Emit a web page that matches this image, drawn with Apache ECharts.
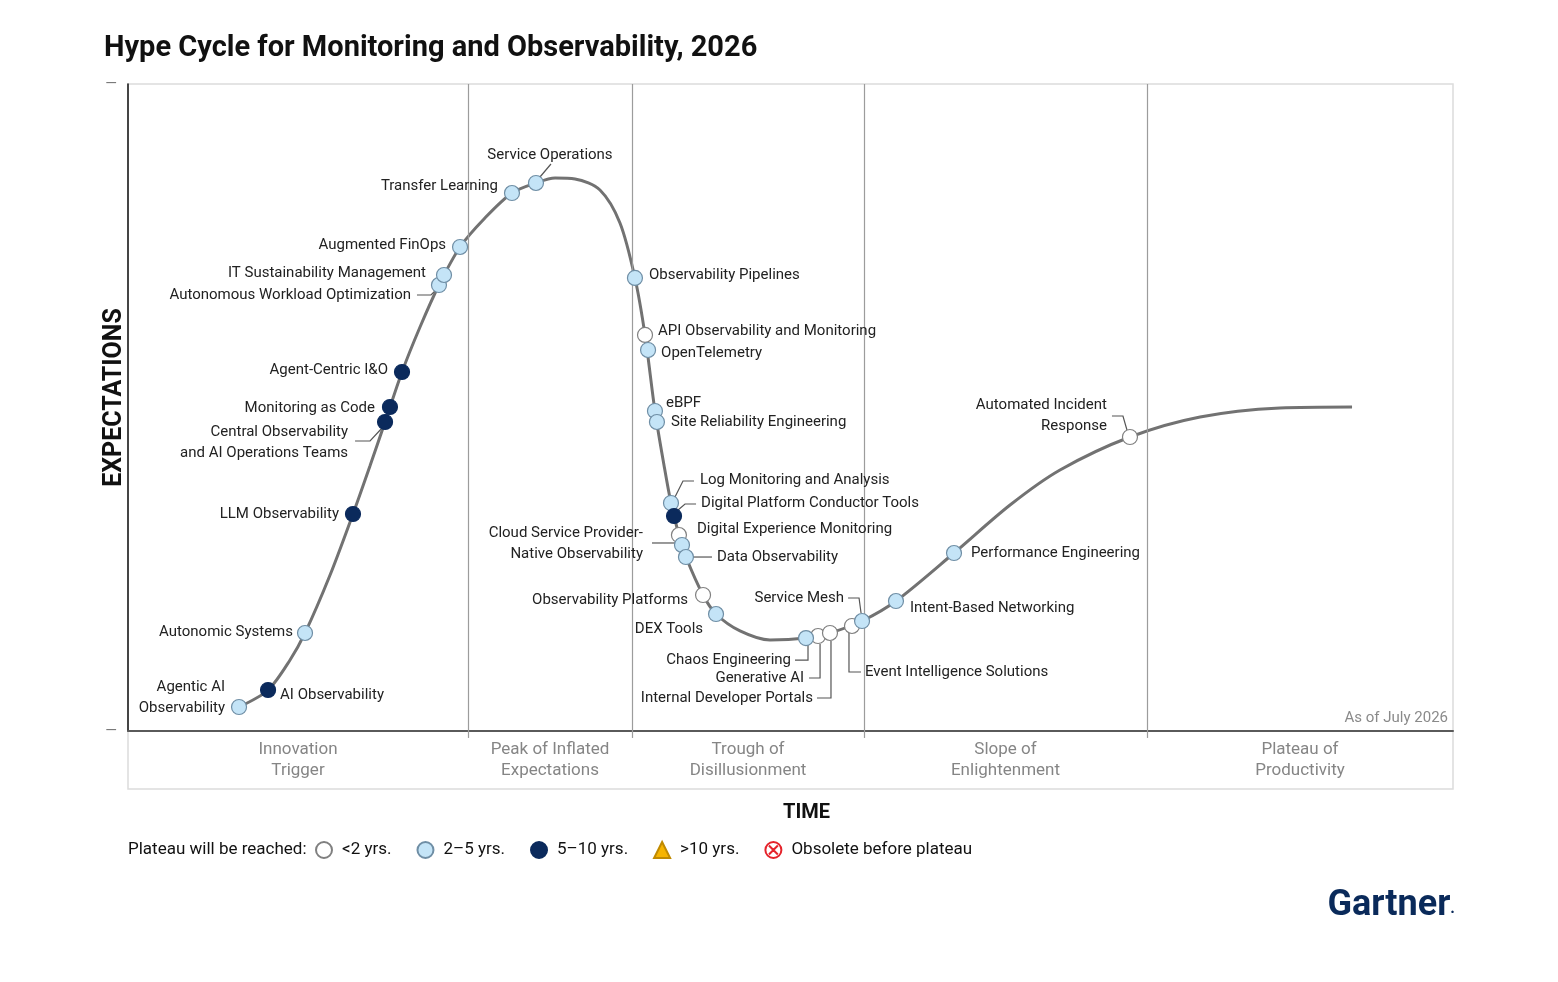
<!DOCTYPE html>
<html>
<head>
<meta charset="utf-8">
<script src="https://cdn.jsdelivr.net/npm/echarts@6/dist/echarts.min.js"></script>
<style>
html,body{margin:0;padding:0;background:#fff;}
#c{width:1558px;height:982px;}
</style>
</head>
<body>
<div id="c"></div>
<script>
// ---------------- DATA (x = time 0-100, y = expectations 0-100) ----------------
const curveX = [8.38,10.57,12.23,13.36,15.25,16.98,18.26,19.40,20.68,22.04,23.47,25.06,26.94,28.98,30.79,32.23,33.74,35.62,37.13,38.26,39.02,39.77,40.45,40.98,41.58,42.11,43.40,44.38,46.19,48.45,51.17,52.98,55.40,57.96,62.34,66.57,70.34,75.62,80.91,86.94,92.38];
const curveY = [3.71,6.34,10.97,15.15,24.11,33.54,40.96,47.76,55.49,62.44,68.93,74.81,79.29,83.15,84.70,85.47,85.32,83.62,78.52,70.02,61.21,49.46,41.11,35.24,30.29,26.89,21.02,18.08,15.46,14.06,14.37,15.15,17.00,20.09,27.51,34.93,40.34,45.44,48.53,49.92,50.08];

const techNames = [
  'Agentic AI\nObservability','AI Observability','Autonomic Systems','LLM Observability',
  'Central Observability\nand AI Operations Teams','Monitoring as Code','Agent-Centric I&O',
  'Autonomous Workload Optimization','IT Sustainability Management','Augmented FinOps',
  'Transfer Learning','Service Operations','Observability Pipelines','API Observability and Monitoring',
  'OpenTelemetry','eBPF','Site Reliability Engineering','Log Monitoring and Analysis',
  'Digital Platform Conductor Tools','Digital Experience Monitoring','Cloud Service Provider-\nNative Observability',
  'Data Observability','Observability Platforms','DEX Tools','Chaos Engineering','Generative AI',
  'Internal Developer Portals','Event Intelligence Solutions','Service Mesh','Intent-Based Networking',
  'Performance Engineering','Automated Incident\nResponse'
];
const techX = [8.38,10.57,13.36,16.98,19.40,19.77,20.68,23.47,23.85,25.06,28.98,30.79,38.26,39.02,39.25,39.77,39.92,40.98,41.21,41.58,41.81,42.11,43.40,44.38,51.17,52.08,52.98,54.64,55.40,57.96,62.34,75.62];
const techY = [3.71,6.34,15.15,33.54,47.76,50.08,55.49,68.93,70.48,74.81,83.15,84.70,70.02,61.21,58.89,49.46,47.76,35.24,33.23,30.29,28.75,26.89,21.02,18.08,14.37,14.68,15.15,16.23,17.00,20.09,27.51,45.44];
const techPlateau = ['2-5','5-10','2-5','5-10','5-10','5-10','5-10','2-5','2-5','2-5','2-5','2-5','2-5','<2','2-5','2-5','2-5','2-5','5-10','<2','2-5','2-5','<2','2-5','2-5','<2','<2','<2','2-5','2-5','2-5','<2'];

const phaseNames = ['Innovation\nTrigger','Peak of Inflated\nExpectations','Trough of\nDisillusionment','Slope of\nEnlightenment','Plateau of\nProductivity'];
const phaseBounds = [0,25.66,38.04,55.55,76.9,100];

const legendNames = ['<2 yrs.','2–5 yrs.','5–10 yrs.','>10 yrs.','Obsolete before plateau'];
const plateauKeys = ['<2','2-5','5-10','>10','obsolete'];

// ---------------- LAYOUT / STYLE (label placement in pixels relative to marker) ----------------
// [side, dx, dy, leader polyline offsets]
const labelPlace = [
  ['l',-14,-9,null],['r',12,5,null],['l',-12,-1,null],['l',-14,0,null],
  ['l',-37,21,[[-3,6],[-15,19],[-30,19]]],['l',-15,1,null],['l',-14,-2,null],
  ['l',-28,10,[[-4,6],[-8,10],[-22,10]]],['l',-18,-2,null],['l',-14,-2,null],
  ['l',-14,-7,null],['c',14,-28,[[4,-6],[15,-19]]],['r',14,-3,null],['r',13,-4,null],
  ['r',13,3,null],['r',11,-8,null],['r',14,0,null],['r',29,-23,[[4,-6],[12,-22],[23,-22]]],
  ['r',27,-13,[[4,-6],[11,-12],[22,-12]]],['r',18,-6,null],['l',-39,-1,[[-7,-2],[-30,-2]]],
  ['r',31,0,[[7,0],[26,0]]],['l',-15,5,null],['l',-13,15,null],
  ['l',-15,22,[[2,7],[2,22],[-11,22]]],['l',-14,42,[[2,8],[2,42],[-9,42]]],
  ['l',-17,65,[[1,8],[1,65],[-13,65]]],['r',13,46,[[-3,7],[-3,46],[9,46]]],
  ['l',-18,-23,[[-14,-23],[-3,-23],[-1,-8]]],['r',14,7,null],['r',17,0,null],
  ['l',-23,-21,[[-18,-21],[-7,-21],[-3,-7]]]
];

const FONT = 'Roboto, "Noto Sans", "DejaVu Sans", sans-serif';
const groupStyle = {
  '<2':      {symbol:'circle', color:'#ffffff', border:'#808080', bw:1.2},
  '2-5':     {symbol:'circle', color:'#c4e4f7', border:'#6f8ea5', bw:1.2},
  '5-10':    {symbol:'circle', color:'#0b2a5c', border:'#0b2a5c', bw:1.2},
  '>10':     {symbol:'triangle', color:'#f6b400', border:'#c08a00', bw:1},
  'obsolete':{symbol:'path://M10,1 A9,9 0 1,1 9.99,1 Z M5,5 L15,15 M15,5 L5,15', color:'rgba(255,255,255,1)', border:'#e5232b', bw:2}
};

const chart = echarts.init(document.getElementById('c'));

const techSeries = plateauKeys.map((k, gi) => {
  const idxs = techNames.map((n,i)=>i).filter(i => techPlateau[i] === k);
  const st = groupStyle[k];
  return {
    type:'scatter', name:legendNames[gi], xAxisIndex:0, yAxisIndex:0, z:5,
    symbol:st.symbol, symbolSize:15, silent:true,
    itemStyle:{color:st.color, borderColor:st.border, borderWidth:st.bw, opacity:1},
    emphasis:{disabled:true},
    data: idxs.map(i => ({name:techNames[i], value:[techX[i], techY[i]]})),
    label:{show:true, formatter:'{b}', fontFamily:FONT, fontSize:15, color:'#222', lineHeight:21},
    labelLayout: function(p){
      const q = labelPlace[idxs[p.dataIndex]];
      const cx = p.rect.x + p.rect.width/2, cy = p.rect.y + p.rect.height/2;
      return {x:cx+q[1], y:cy+q[2], align:q[0]==='l'?'right':(q[0]==='c'?'center':'left'), verticalAlign:'middle'};
    }
  };
});

const option = {
  animation:false,
  textStyle:{fontFamily:FONT},
  title:[
    {text:'Hype Cycle for Monitoring and Observability, 2026', left:99, top:29,
     textStyle:{fontFamily:FONT, fontSize:29, fontWeight:'bold', color:'#111'}},
    {text:'As of July 2026', right:105, top:706,
     textStyle:{fontFamily:FONT, fontSize:15, fontWeight:'normal', color:'#8a8a8a'}}
  ],
  grid:[
    {left:128, right:105, top:84, bottom:251, show:true, borderColor:'#dcdcdc', borderWidth:1.5, backgroundColor:'#fff'},
    {left:128, right:105, top:731, height:58, show:true, borderColor:'#dcdcdc', borderWidth:1.5}
  ],
  xAxis:[
    {type:'value', gridIndex:0, min:0, max:100, axisLine:{show:true, onZero:false, lineStyle:{color:'#5a5a5a', width:2}},
     axisTick:{show:false}, axisLabel:{show:false}, splitLine:{show:false},
     name:'TIME', nameLocation:'middle', nameGap:72, nameMoveOverlap:false,
     nameTextStyle:{fontFamily:FONT, fontSize:20, fontWeight:'bold', color:'#111', padding:[0,0,0,32]}},
    {type:'value', gridIndex:1, min:0, max:100, show:false}
  ],
  yAxis:[
    {type:'value', gridIndex:0, min:0, max:100, interval:100,
     axisLine:{show:true, onZero:false, lineStyle:{color:'#111', width:1.5}},
     axisTick:{show:false}, splitLine:{show:false},
     axisLabel:{show:true, formatter:function(){return '—';}, color:'#777', fontSize:15, margin:11},
     name:'EXPECTATIONS', nameLocation:'middle', nameGap:1, nameRotate:90, nameMoveOverlap:false,
     nameTextStyle:{fontFamily:FONT, fontSize:25, fontWeight:'bold', color:'#111', padding:[0,0,0,20]}},
    {type:'value', gridIndex:1, min:0, max:1, show:false}
  ],
  legend:{
    left:310, top:836, itemWidth:16, itemHeight:16, itemGap:25,
    data:legendNames, selectedMode:false,
    textStyle:{fontFamily:FONT, fontSize:17, color:'#111', padding:[0,0,0,5]}
  },
  series:[
    {
      type:'line', xAxisIndex:0, yAxisIndex:0, z:3, silent:true,
      data: curveX.map((x,i)=>[x, curveY[i]]),
      smooth:0.3, showSymbol:false,
      lineStyle:{color:'#727272', width:3},
      markLine:{silent:true, symbol:'none', label:{show:false},
        lineStyle:{color:'#9c9c9c', width:1.2, type:'solid'},
        data: phaseBounds.slice(1,-1).map(v=>({xAxis:v}))}
    },
    {
      type:'scatter', xAxisIndex:1, yAxisIndex:1, silent:true, symbolSize:1,
      itemStyle:{color:'rgba(0,0,0,0)'},
      data: phaseNames.map((n,i)=>({name:n, value:[(phaseBounds[i]+phaseBounds[i+1])/2, 0.5]})),
      label:{show:true, position:'inside', formatter:'{b}', fontFamily:FONT, fontSize:17, lineHeight:21, color:'#666'},
      markLine:{silent:true, symbol:'none', label:{show:false},
        lineStyle:{color:'#9c9c9c', width:1.2, type:'solid'},
        data: phaseBounds.slice(1,-1).map(v=>[{coord:[v,1]},{coord:[v,0.88]}])}
    }
  ].concat(techSeries)
};
chart.setOption(option);

// leader lines, computed from the data positions through the chart's scales
const leaders = [];
techNames.forEach((n,i)=>{
  const q = labelPlace[i];
  if (!q[3]) return;
  const p = chart.convertToPixel({xAxisIndex:0, yAxisIndex:0}, [techX[i], techY[i]]);
  leaders.push({type:'polyline', z:1, silent:true,
    shape:{points:q[3].map(o=>[p[0]+o[0], p[1]+o[1]])},
    style:{stroke:'#555', lineWidth:1.2, fill:null}});
});
chart.setOption({graphic:[
  {type:'text', left:128, top:841, silent:true,
   style:{text:'Plateau will be reached:', font:'17px '+FONT, fill:'#111'}},
  {type:'text', right:103, top:888, silent:true,
   style:{text:'{a|Gartner}{b|.}', rich:{a:{font:'bold 36px '+FONT, fill:'#0a2a5a'}, b:{font:'bold 16px '+FONT, fill:'#0a2a5a', verticalAlign:'bottom', padding:[0,0,7,0]}}}}
].concat(leaders)});
</script>
</body>
</html>
